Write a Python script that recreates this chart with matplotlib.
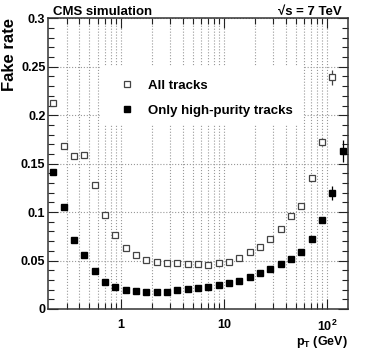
import matplotlib
matplotlib.use("Agg")
import matplotlib.pyplot as plt
from matplotlib.patches import Rectangle
from matplotlib.lines import Line2D
from matplotlib.ticker import FixedLocator, FixedFormatter, NullFormatter

plt.rcParams['font.family'] = ['Liberation Sans', 'DejaVu Sans']
plt.rcParams['font.weight'] = 'bold'
plt.rcParams['mathtext.default'] = 'regular'

# bin centres in pT (GeV)
pt = [0.224, 0.282, 0.355, 0.447, 0.562, 0.708, 0.891, 1.12, 1.41, 1.78,
      2.24, 2.82, 3.55, 4.47, 5.62, 7.08, 8.91, 11.2, 14.1, 17.8,
      22.4, 28.2, 35.5, 44.7, 56.2, 70.8, 89.1, 112, 141]

# all tracks (last bin off scale)
fake_all = [0.213, 0.168, 0.158, 0.159, 0.1275, 0.097, 0.076, 0.0626, 0.0553, 0.0505,
            0.0488, 0.0478, 0.0471, 0.0467, 0.046, 0.0454, 0.0478, 0.049, 0.0526, 0.0584,
            0.064, 0.072, 0.0825, 0.0955, 0.1065, 0.1347, 0.1725, 0.239]
err_all = [0.002, 0.002, 0.002, 0.002, 0.001, 0.001, 0.001, 0.001, 0.001, 0.001,
           0.001, 0.001, 0.001, 0.001, 0.001, 0.001, 0.001, 0.001, 0.001, 0.001,
           0.001, 0.001, 0.001, 0.001, 0.002, 0.002, 0.004, 0.008]

# high-purity tracks
fake_hp = [0.1416, 0.1055, 0.0711, 0.0557, 0.0395, 0.0282, 0.023, 0.0196, 0.0182, 0.0175,
           0.0172, 0.0179, 0.0193, 0.0206, 0.022, 0.0227, 0.0247, 0.0271, 0.0289, 0.033,
           0.0368, 0.0409, 0.0464, 0.0515, 0.059, 0.0722, 0.0914, 0.12, 0.163]
err_hp = [0.002, 0.001, 0.001, 0.001, 0.001, 0.001, 0.001, 0.001, 0.001, 0.001,
          0.001, 0.001, 0.001, 0.001, 0.001, 0.001, 0.001, 0.001, 0.001, 0.001,
          0.001, 0.001, 0.001, 0.001, 0.001, 0.002, 0.003, 0.007, 0.011]

fig = plt.figure(figsize=(3.74, 3.55), dpi=100)
ax = fig.add_axes([0.129, 0.1296, 0.801, 0.8188])

ax.set_xscale('log')
ax.set_xlim(10 ** -0.7, 10 ** 2.2)
ax.set_ylim(0, 0.3)

minor_x = [m * 10 ** e for e in (-1, 0, 1, 2) for m in range(2, 10)]
minor_x = [v for v in minor_x if 0.2 < v < 158]
ax.xaxis.set_major_locator(FixedLocator([1, 10, 100]))
ax.xaxis.set_major_formatter(FixedFormatter(['1', '10', '10$^{2}$']))
ax.xaxis.set_minor_locator(FixedLocator(minor_x))
ax.xaxis.set_minor_formatter(NullFormatter())
ax.yaxis.set_major_locator(FixedLocator([0, 0.05, 0.1, 0.15, 0.2, 0.25, 0.3]))
ax.yaxis.set_major_formatter(FixedFormatter(['0', '0.05', '0.1', '0.15', '0.2', '0.25', '0.3']))
ax.yaxis.set_minor_locator(FixedLocator([i * 0.01 for i in range(31)]))

ax.tick_params(which='both', direction='in', top=True, right=True, labelsize=9, colors='#222222')
ax.tick_params(which='major', length=7, width=0.8)
ax.tick_params(which='minor', length=4, width=0.8)
ax.tick_params(axis='x', pad=7)
ax.tick_params(axis='y', pad=2)
for lab in ax.get_xticklabels() + ax.get_yticklabels():
    lab.set_fontweight('bold')
    lab.set_color('black')

for s in ax.spines.values():
    s.set_linewidth(1.1)
    s.set_color('#333333')

ax.grid(True, which='both', axis='x', linestyle=':', color='#999999', linewidth=0.8)
ax.grid(True, which='major', axis='y', linestyle=':', color='#999999', linewidth=0.8)
ax.set_axisbelow(True)

# white legend background hiding the grid
ax.add_patch(Rectangle((0.173, 0.632), 0.678, 0.203, transform=ax.transAxes,
                       facecolor='white', edgecolor='none', zorder=1.5))

ax.errorbar(pt[:len(fake_all)], fake_all, yerr=err_all, fmt='s', ms=4.8,
            mfc='white', mec='#444444', mew=0.9, ecolor='#444444', elinewidth=0.9,
            capsize=0, zorder=3)
ax.errorbar(pt, fake_hp, yerr=err_hp, fmt='s', ms=4.8, mfc='black', mec='black',
            ecolor='black', elinewidth=0.9, capsize=0, zorder=3)

handles = [Line2D([], [], ls='none', marker='s', ms=4.8, mfc='white', mec='#444444', mew=0.9),
           Line2D([], [], ls='none', marker='s', ms=4.8, mfc='black', mec='black')]
ax.legend(handles, ['All tracks', 'Only high-purity tracks'], loc='upper left',
          bbox_to_anchor=(0.2, 0.83), frameon=False, handlelength=1.0,
          handletextpad=1.1, labelspacing=0.95, prop={'weight': 'bold', 'size': 9.5})

ax.set_ylabel('Fake rate', fontsize=12, fontweight='bold')
ax.yaxis.set_label_coords(-0.13, 1.0)
ax.yaxis.label.set_ha('right')
ax.yaxis.label.set_va('center')
ax.set_xlabel('p$_{T}$ (GeV)', fontsize=9, fontweight='bold')
ax.xaxis.set_label_coords(1.0, -0.085)
ax.xaxis.label.set_ha('right')
ax.xaxis.label.set_va('top')

fig.text(0.142, 0.982, 'CMS simulation', fontsize=9.5, fontweight='bold', va='top', ha='left')
fig.text(0.915, 0.982, '√s = 7 TeV', fontsize=9.5, fontweight='bold', va='top', ha='right')

fig.savefig('out.png', dpi=100)
